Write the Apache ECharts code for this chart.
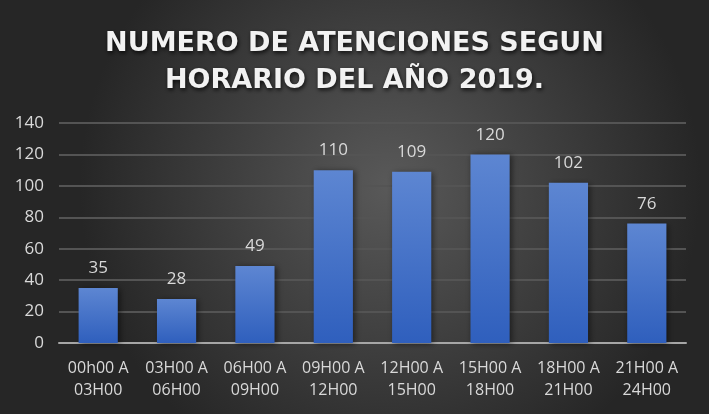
<!DOCTYPE html>
<html>
<head>
<meta charset="utf-8">
<script src="https://cdn.jsdelivr.net/npm/echarts@6/dist/echarts.min.js"></script>
<style>
  html, body { margin: 0; padding: 0; }
  #main { width: 709px; height: 414px; }
</style>
</head>
<body>
<div id="main"></div>
<script>
var chart = echarts.init(document.getElementById('main'));

// datos
var categorias = ['00h00 A\n03H00', '03H00 A\n06H00', '06H00 A\n09H00', '09H00 A\n12H00',
                  '12H00 A\n15H00', '15H00 A\n18H00', '18H00 A\n21H00', '21H00 A\n24H00'];
var atenciones = [35, 28, 49, 110, 109, 120, 102, 76];
var titulo = 'NUMERO DE ATENCIONES SEGUN\nHORARIO DEL AÑO 2019.';

var fuente = '"Open Sans", "Noto Sans", sans-serif';

var option = {
  backgroundColor: {
    type: 'radial', x: 0.55, y: 0.45, r: 0.75,
    colorStops: [
      {offset: 0, color: '#595959'},
      {offset: 1, color: '#262626'}
    ]
  },
  title: {
    text: titulo,
    left: 'center',
    top: 20,
    textStyle: {
      color: '#f2f2f2',
      fontSize: 27,
      fontWeight: 'bold',
      fontFamily: '"DejaVu Sans", sans-serif',
      lineHeight: 37,
      textShadowColor: 'rgba(0,0,0,0.8)',
      textShadowBlur: 4,
      textShadowOffsetX: 1,
      textShadowOffsetY: 2
    }
  },
  grid: {
    left: 59,
    right: 23,
    top: 123,
    bottom: 71
  },
  xAxis: {
    type: 'category',
    data: categorias,
    axisLine: {lineStyle: {color: '#a6a6a6', width: 2}},
    axisTick: {show: false},
    axisLabel: {
      color: '#d9d9d9',
      fontSize: 16,
      fontFamily: fuente,
      lineHeight: 22,
      margin: 14,
      interval: 0
    }
  },
  yAxis: {
    type: 'value',
    min: 0,
    max: 140,
    interval: 20,
    axisLine: {show: false},
    axisTick: {show: false},
    axisLabel: {
      color: '#d9d9d9',
      fontSize: 17,
      fontFamily: fuente,
      margin: 15
    },
    splitLine: {lineStyle: {color: '#545454', width: 2}}
  },
  series: [{
    type: 'bar',
    data: atenciones,
    barWidth: '50%',
    itemStyle: {
      color: new echarts.graphic.LinearGradient(0, 0, 0, 1, [
        {offset: 0, color: '#5d86d2'},
        {offset: 1, color: '#2f5fbd'}
      ]),
      shadowColor: 'rgba(0,0,0,0.5)',
      shadowBlur: 6,
      shadowOffsetX: 2,
      shadowOffsetY: 1
    },
    label: {
      show: true,
      position: 'top',
      distance: 11,
      color: '#d9d9d9',
      fontSize: 17,
      fontFamily: fuente
    }
  }]
};
chart.setOption(option);
</script>
</body>
</html>
